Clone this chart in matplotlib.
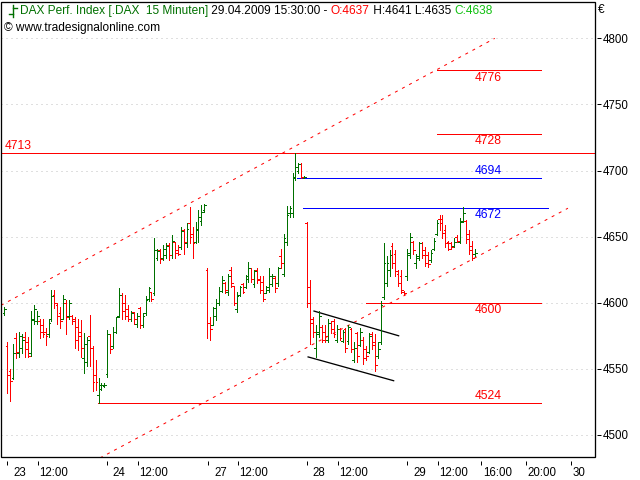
import numpy as np
import matplotlib
matplotlib.use('Agg')
import matplotlib.pyplot as plt
from matplotlib.patches import Rectangle
from matplotlib.lines import Line2D
import matplotlib.transforms as mtransforms

plt.rcParams['font.family'] = ['Liberation Sans', 'DejaVu Sans']

# --- 15 minute bars, DAX, 23.-29.04.2009 ---
# last bar of 22.04.
o22 = [4592]; h22 = [4596.5]; l22 = [4591]; c22 = [4595]

o23 = [4567, 4548, 4543, 4573, 4562, 4566, 4574, 4570, 4562, 4587, 4586, 4586, 4583, 4578, 4576, 4588, 4606,
       4598, 4592, 4588, 4600, 4590, 4590, 4588, 4582, 4578, 4558, 4555, 4575, 4566, 4545, 4530, 4535, 4537]
h23 = [4570, 4550, 4569, 4577, 4578, 4576, 4578, 4574, 4594, 4598, 4594, 4588, 4588, 4581, 4588, 4610, 4610,
       4600, 4597, 4606, 4602, 4602, 4591, 4589, 4588, 4587, 4577, 4574, 4591, 4567, 4557, 4543, 4539, 4539]
l23 = [4532, 4526, 4542, 4558, 4559, 4562, 4559, 4559, 4560, 4584, 4584, 4573, 4574, 4568, 4574, 4586, 4596,
       4584, 4581, 4588, 4576, 4588, 4584, 4566, 4564, 4559, 4547, 4552, 4552, 4533, 4534, 4524, 4534, 4536]
c23 = [4545, 4541, 4562, 4563, 4575, 4572, 4565, 4560, 4588, 4595, 4590, 4578, 4576, 4575, 4585, 4605, 4600,
       4590, 4586, 4603, 4589, 4600, 4586, 4572, 4575, 4566, 4569, 4572, 4566, 4540, 4540, 4538, 4538, 4538]

o24 = [4546, 4576, 4567, 4578, 4590, 4606, 4600, 4595, 4588, 4593, 4584, 4596, 4583, 4592, 4603, 4608, 4607,
       4634, 4640, 4634, 4636, 4644, 4636, 4646, 4640, 4642, 4655, 4645, 4660, 4652, 4646, 4655, 4662, 4670]
h24 = [4579, 4576, 4582, 4589, 4611, 4607, 4606, 4598, 4594, 4593, 4592, 4597, 4592, 4605, 4612, 4608, 4649,
       4641, 4641, 4644, 4645, 4645, 4651, 4646, 4644, 4657, 4656, 4660, 4672.7, 4657, 4661, 4670, 4674, 4675]
l24 = [4544, 4562, 4566, 4577, 4589, 4588, 4588, 4586, 4586, 4584, 4582, 4581, 4582, 4591, 4601, 4601, 4606,
       4632, 4630, 4632, 4634, 4632, 4634, 4634, 4636, 4641, 4637, 4642, 4645, 4634, 4645, 4646, 4659, 4669]
c24 = [4576, 4565, 4578, 4589, 4606, 4594, 4590, 4588, 4592, 4588, 4590, 4583, 4590, 4602, 4611, 4603, 4640,
       4639, 4633, 4641, 4643, 4636, 4647, 4638, 4637, 4654, 4646, 4656, 4650, 4645, 4656, 4665, 4669, 4674]

o27 = [4625, 4585, 4583, 4590, 4600, 4609, 4615, 4608, 4625, 4613, 4595, 4606, 4614, 4612, 4618, 4626, 4614,
       4625, 4618, 4616, 4607, 4610, 4614, 4619, 4615, 4635, 4622, 4646, 4668, 4668, 4695, 4700, 4705, 4694]
h27 = [4626, 4589, 4597, 4603, 4612, 4620, 4616, 4622, 4627, 4613, 4608, 4613, 4615, 4621, 4631, 4626, 4625,
       4626, 4620, 4620, 4613, 4626, 4622, 4620, 4627, 4641, 4652, 4673, 4673, 4698, 4713, 4705.5, 4705.5, 4696]
l27 = [4573, 4572, 4583, 4587, 4598, 4608, 4607, 4606, 4612, 4598, 4593, 4605, 4607, 4611, 4616, 4616, 4612,
       4615, 4607, 4601, 4607, 4608, 4613, 4608, 4613, 4626, 4620, 4644, 4665, 4665, 4693, 4698, 4694, 4694]
c27 = [4585, 4580, 4596, 4600, 4609, 4617, 4610, 4620, 4615, 4600, 4605, 4612, 4608, 4620, 4626, 4618, 4624,
       4617, 4610, 4603, 4612, 4620, 4620, 4611, 4626, 4630, 4649, 4666, 4672, 4694, 4703, 4705, 4695, 4695]

o28 = [4660, 4612, 4588, 4566, 4576, 4582, 4578, 4572, 4585, 4586, 4572, 4580, 4571, 4580, 4571, 4580, 4557,
       4577, 4568, 4572, 4565, 4563, 4576, 4570, 4560, 4570, 4604, 4615, 4625, 4643, 4637, 4622, 4620, 4608]
h28 = [4661, 4617, 4589, 4583, 4594, 4583, 4583, 4588, 4586, 4588, 4583, 4581, 4579, 4581, 4583, 4581, 4570,
       4578, 4581, 4574, 4567, 4577, 4578, 4576, 4570, 4601, 4645, 4635, 4640, 4645, 4640, 4625, 4625, 4609]
l28 = [4597, 4569, 4574, 4559, 4574, 4570, 4570, 4570, 4577, 4574, 4570, 4572, 4570, 4563, 4569, 4563, 4555,
       4555, 4567, 4554, 4557, 4562, 4565, 4548, 4558, 4569, 4603, 4613, 4620, 4626, 4620, 4613, 4607, 4606]
c28 = [4600, 4585, 4578, 4578, 4590, 4572, 4575, 4585, 4580, 4576, 4580, 4573, 4578, 4566, 4582, 4565, 4566,
       4560, 4578, 4558, 4560, 4575, 4568, 4553, 4565, 4598, 4630, 4630, 4636, 4630, 4624, 4615, 4610, 4607]

o29 = [4620, 4636, 4646, 4630, 4634, 4645, 4640, 4636, 4632, 4641, 4652, 4663, 4663, 4655, 4646, 4645, 4643,
       4650, 4646, 4662, 4662, 4652, 4643, 4637]
h29 = [4641, 4652.5, 4647, 4637, 4646, 4646, 4642, 4638.6, 4640, 4649, 4662.6, 4666, 4666, 4659, 4647, 4646,
       4649, 4651, 4664, 4672.7, 4662.6, 4655, 4647, 4641]
l29 = [4617, 4634, 4637, 4626, 4632, 4634, 4628, 4627, 4631, 4640, 4651, 4655, 4649, 4642, 4640, 4641, 4642,
       4646, 4645, 4661, 4645, 4637, 4632.3, 4635]
c29 = [4638, 4650, 4640, 4635, 4645, 4636, 4630, 4629, 4638, 4647, 4660, 4660, 4653, 4645, 4641, 4642, 4646,
       4647, 4661, 4668, 4648, 4640, 4634, 4638]

opens = np.array(o22 + o23 + o24 + o27 + o28 + o29, dtype=float)
highs = np.array(h22 + h23 + h24 + h27 + h28 + h29, dtype=float)
lows = np.array(l22 + l23 + l24 + l27 + l28 + l29, dtype=float)
closes = np.array(c22 + c23 + c24 + c27 + c28 + c29, dtype=float)

# drawn levels
levels = [4776, 4728, 4694, 4672, 4600, 4524]
level_colors = ['red', 'red', 'blue', 'blue', 'red', 'red']
level_from = [146.1, 146.1, 98.5, 100.5, 122.0, 30.8]
level_to = [181.5, 181.5, 181.5, 183.9, 181.5, 181.5]
label_above = [False, False, True, False, False, True]
top_level = 4713

# trend channel (bar, price)
upper_channel = [(-2.2, 4598.0), (165.8, 4800.0)]
lower_channel = [(31.5, 4482.6), (190.7, 4671.5)]
# flag on 28.04.
flag_upper = [(104.3, 4593.7), (133.1, 4575.0)]
flag_lower = [(102.3, 4559.0), (131.4, 4541.0)]

tick_pos = [0, 10.3, 33.8, 44.4, 68.4, 78.4, 101.8, 112.3, 136.0, 146.4, 161.2, 176.5, 191.9]
tick_txt = ['23', '12:00', '24', '12:00', '27', '12:00', '28', '12:00', '29', '12:00', '16:00', '20:00', '30']
day_txt = ['23', '24', '27', '28', '29']

GREEN = '#007000'
RED = '#ff0000'
PX = 0.72  # one pixel in points

fig = plt.figure(figsize=(6.4, 4.8), dpi=100)
ax = fig.add_axes([1/640, 23/480, 594/640, 455/480])
ax.set_xlim(-2.18, 199.9)
ax.set_ylim(4483.3, 4827.5)

# grid
ax.set_yticks([4500, 4550, 4600, 4650, 4700, 4750, 4800])
ax.yaxis.grid(True, linestyle=(0, (1, 4)), color='#c0c0c0', lw=PX)
ax.set_axisbelow(True)

# OHLC bars
x = np.arange(len(opens)) - 1
cols = [GREEN if c >= o else RED for o, c in zip(opens, closes)]
ax.vlines(x, lows, highs, colors=cols, lw=PX, antialiased=False, zorder=3)
ax.hlines(opens, x - 0.6, x, colors=cols, lw=PX, antialiased=False, zorder=3)
ax.hlines(closes, x, x + 0.6, colors=cols, lw=PX, antialiased=False, zorder=3)

# channel
for seg in (upper_channel, lower_channel):
    ax.plot([seg[0][0], seg[1][0]], [seg[0][1], seg[1][1]], color=RED, lw=PX,
            linestyle=(0, (3, 5)), zorder=2)
for seg in (flag_upper, flag_lower):
    ax.plot([seg[0][0], seg[1][0]], [seg[0][1], seg[1][1]], color='black', lw=PX * 1.3, zorder=2)

# levels
ax.axhline(top_level, color=RED, lw=PX, zorder=2)
ax.annotate(str(top_level), xy=(0, top_level), xycoords=('axes fraction', 'data'),
            xytext=(4 * PX, 7 * PX), textcoords='offset points', color=RED, fontsize=8.7,
            ha='left', va='center')
for lv, col, a, b, up in zip(levels, level_colors, level_from, level_to, label_above):
    ax.hlines(lv, a, b, color=col, lw=PX, antialiased=False, zorder=2)
    ax.annotate(str(lv), xy=(163.5, lv), xytext=(0, (7 if up else -7.5) * PX),
                textcoords='offset points', color=col, fontsize=8.7, ha='center', va='center')

# frame and axes
for s in ax.spines.values():
    s.set_visible(False)
ax.add_patch(Rectangle((0, 0), 1, 1, transform=ax.transAxes, fill=False, ec='black',
                       lw=PX * 1.3, clip_on=False, zorder=5))
ax.spines['bottom'].set_position(('outward', 4 * PX))
ax.spines['right'].set_position(('outward', 2 * PX))
ax.yaxis.tick_right()
ax.set_yticklabels([str(v) for v in [4500, 4550, 4600, 4650, 4700, 4750, 4800]])
ax.tick_params(axis='y', direction='out', length=4 * PX, width=PX, pad=2 * PX, labelsize=8.3)
ax.set_xticks(tick_pos)
ax.set_xticklabels(tick_txt)
ax.tick_params(axis='x', direction='out', length=4 * PX, width=PX, pad=1.5 * PX, labelsize=8.3)
for lab, txt in zip(ax.get_xticklabels(), tick_txt):
    off = 6 if txt in day_txt else 1.5
    lab.set_horizontalalignment('left')
    lab.set_transform(lab.get_transform() + mtransforms.ScaledTranslation(off / 100, 0, fig.dpi_scale_trans))

# header
fig.add_artist(Line2D([13/640, 13/640], [1 - 5/480, 1 - 17/480], color=GREEN, lw=1))
fig.add_artist(Line2D([9/640, 13/640], [1 - 14/480, 1 - 14/480], color=GREEN, lw=1))
fig.add_artist(Line2D([13/640, 17/640], [1 - 8/480, 1 - 8/480], color=GREEN, lw=1))
prev = fig.text(20/640, 1 - 17/480, 'DAX Perf. Index [.DAX  15 Minuten]', color=GREEN,
                fontsize=8.6, ha='left', va='bottom')
for s, col in [(' 29.04.2009 15:30:00 - ', 'black'), ('O:4637', RED),
               (' H:4641 L:4635 ', 'black'), ('C:4638', '#10c010')]:
    prev = ax.annotate(s, xy=(1, 0), xycoords=prev, ha='left', va='bottom', color=col,
                       fontsize=8.6, annotation_clip=False)
fig.text(4/640, 1 - 28/480, '\u00a9 www.tradesignalonline.com', color='black', fontsize=8.6,
         ha='left', va='center')
fig.text(598/640, 1 - 10/480, '\u20ac', color='black', fontsize=8.6, ha='left', va='center')

fig.savefig('out.png', dpi=100)
